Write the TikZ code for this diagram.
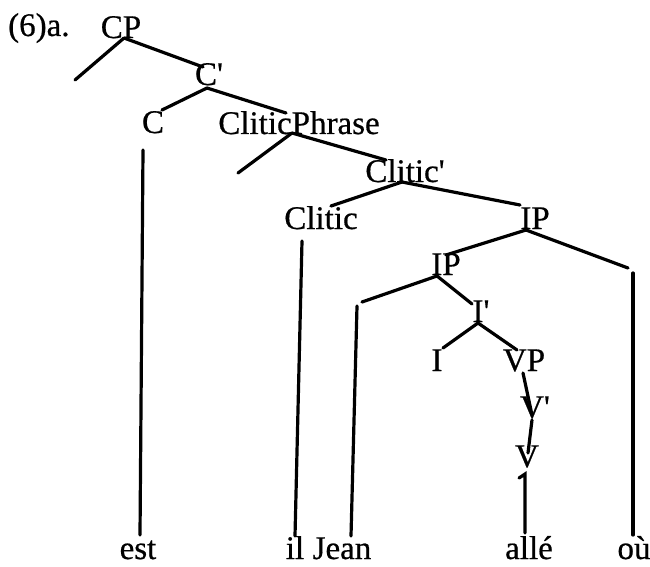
\documentclass[tikz,border=0pt]{standalone}
\usepackage{fontspec}
\setmainfont{Liberation Serif}[FakeBold=0.6]
\newcommand{\pr}{\textquotesingle}
\begin{document}
\begin{tikzpicture}[x=1pt,y=-1pt,
  lbl/.style={inner sep=0pt,anchor=base,font=\fontsize{33}{33}\selectfont},
  br/.style={line width=3.2pt,line cap=round}]
\useasboundingbox (0,0) rectangle (650,567);
% labels
\node[lbl,anchor=base west] (ex) at (8,36) {(6)a.};
\node[lbl] (cp) at (121,38) {CP};
\node[lbl] (cbar) at (209,85) {C\pr};
\node[lbl] (c) at (153,133) {C};
\node[lbl] (clp) at (299,134) {CliticPhrase};
\node[lbl] (clbar) at (405,182) {Clitic\pr};
\node[lbl] (cl) at (321,229) {Clitic};
\node[lbl] (ipa) at (535,229) {IP};
\node[lbl] (ipb) at (446,275) {IP};
\node[lbl] (ibar) at (481,322) {I\pr};
\node[lbl] (i) at (437,371) {I};
\node[lbl] (vp) at (524,371) {VP};
\node[lbl] (vbar) at (535,418) {V\pr};
\node[lbl] (v) at (527,467) {V};
\node[lbl] (est) at (138,559) {est};
\node[lbl] (il) at (295,559) {il};
\node[lbl] (jean) at (342,559) {Jean};
\node[lbl] (alle) at (529,559) {allé};
\node[lbl] (ou) at (634,559) {où};
% junction points
\coordinate (cpj) at (124,38);
\coordinate (specc) at (75,80);
\coordinate (cbart) at (203,67);
\coordinate (cbarj) at (207,88);
\coordinate (ct) at (162,110);
\coordinate (clpt) at (286,113);
\coordinate (clpj) at (292,133);
\coordinate (speccl) at (238,173);
\coordinate (clbart) at (386,160);
\coordinate (clbarj) at (402,182);
\coordinate (clt) at (331,206);
\coordinate (ipat) at (520,205);
\coordinate (ipaj) at (526,230);
\coordinate (ipbt) at (446,255);
\coordinate (out) at (628,268);
\coordinate (ipbj) at (437,276);
\coordinate (jeant) at (362,302);
\coordinate (ibart) at (472,304);
\coordinate (ibarj) at (478,323);
\coordinate (it) at (443,348);
\coordinate (vpt) at (517,350);
\coordinate (vpb) at (523,373);
\coordinate (vbart) at (532,415);
\coordinate (vbarb) at (532,420);
\coordinate (vt) at (528,453);
\coordinate (allet) at (525,474);
\coordinate (alletick) at (519,478);
% word line ends
\coordinate (estt) at (143,150);
\coordinate (estb) at (140,535);
\coordinate (ilt) at (302,241);
\coordinate (ilb) at (295,536);
\coordinate (jeanvt) at (357,306);
\coordinate (jeanvb) at (351,536);
\coordinate (alleb) at (525,533);
\coordinate (ouvt) at (633,273);
\coordinate (ouvb) at (633,535);
% branches
\draw[br] (cpj) -- (specc);
\draw[br] (cpj) -- (cbart);
\draw[br] (cbarj) -- (ct);
\draw[br] (cbarj) -- (clpt);
\draw[br] (clpj) -- (speccl);
\draw[br] (clpj) -- (clbart);
\draw[br] (clbarj) -- (clt);
\draw[br] (clbarj) -- (ipat);
\draw[br] (ipaj) -- (ipbt);
\draw[br] (ipaj) -- (out);
\draw[br] (ipbj) -- (jeant);
\draw[br] (ipbj) -- (ibart);
\draw[br] (ibarj) -- (it);
\draw[br] (ibarj) -- (vpt);
\draw[br] (vpb) -- (vbart);
\draw[br] (vbarb) -- (vt);
\draw[br] (alletick) -- (allet) -- (alleb);
\draw[br] (estt) -- (estb);
\draw[br] (ilt) -- (ilb);
\draw[br] (jeanvt) -- (jeanvb);
\draw[br] (ouvt) -- (ouvb);
\end{tikzpicture}
\end{document}
